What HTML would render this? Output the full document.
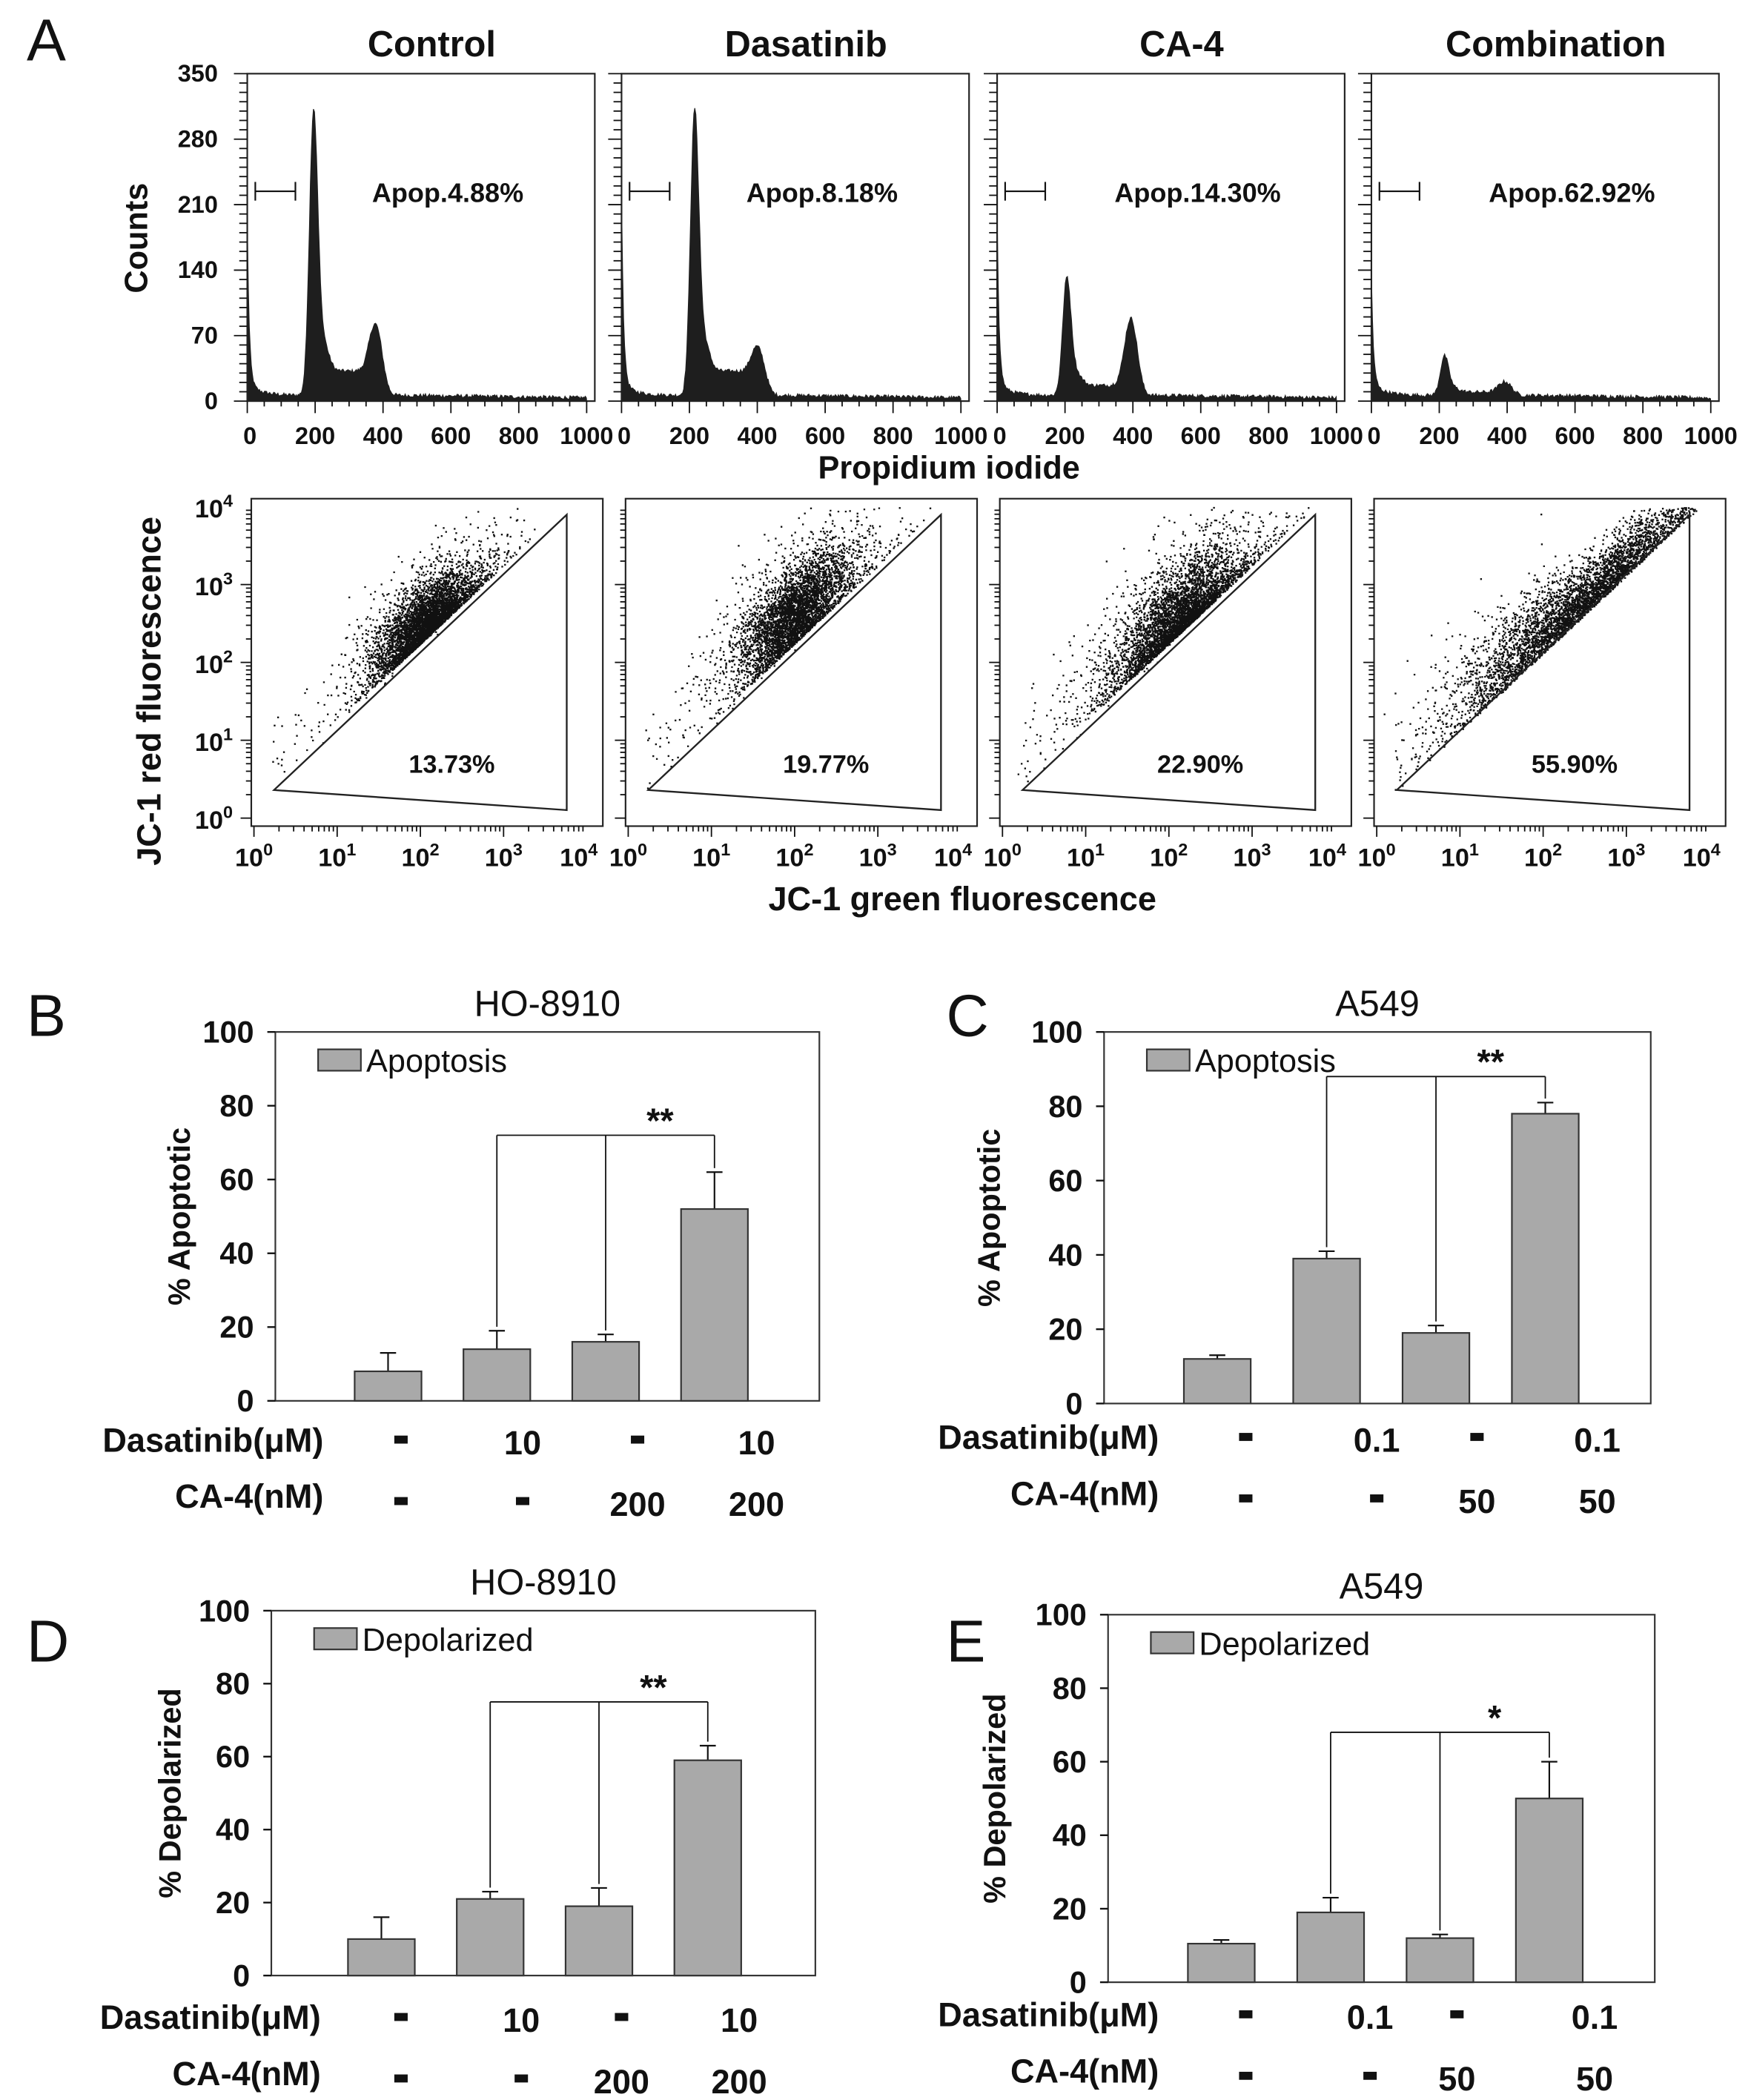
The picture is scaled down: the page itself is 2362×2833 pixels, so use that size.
<!DOCTYPE html>
<html><head><meta charset="utf-8"><style>
html,body{margin:0;padding:0;background:#fff}
svg{display:block}
text{font-family:"Liberation Sans",Arial,sans-serif;font-weight:bold;fill:#111}
</style></head><body>
<svg id="fig" width="2362" height="2833" viewBox="0 0 1310 1571" xmlns="http://www.w3.org/2000/svg">
<rect width="1310" height="1571" fill="#fff"/>
<g id="root"></g>
</svg>
<script>
// ---------- data ----------
const histTitles = ["Control","Dasatinib","CA-4","Combination"];
const apopLabels = ["Apop.4.88%","Apop.8.18%","Apop.14.30%","Apop.62.92%"];
const g1Pos = [195,215,205,215];
const g1Height = [290,290,120,40];
const g2Pos = [380,405,395,395];
const g2Height = [70,45,80,14];
const subG1 = [170,200,180,115];
const histYTicks = [0,70,140,210,280,350];
const histXTicks = [0,200,400,600,800,1000];
const jcLabels = ["13.73%","19.77%","22.90%","55.90%"];
const clusterCx = [2.05,2.0,2.1,2.4];
const clusterCy = [2.5,2.65,2.55,2.5];
const clusterSpread = [0.26,0.3,0.34,0.75];
const clusterN = [6500,6500,6500,6500];
const logTicks = ["0","1","2","3","4"];

const barYTicks = [0,20,40,60,80,100];
const apoptB = [8,14,16,52], apoptBErr = [5,5,2,10];
const apoptC = [12,39,19,78], apoptCErr = [1,2,2,3];
const depolD = [10,21,19,59], depolDErr = [6,2,5,4];
const depolE = [10.5,19,12,50], depolEErr = [1,4,1,10];
const dasHO = ["-","10","-","10"], caHO = ["-","-","200","200"];
const dasA = ["-","0.1","-","0.1"], caA = ["-","-","50","50"];

// ---------- helpers ----------
const NS="http://www.w3.org/2000/svg";
const root=document.getElementById('root');
function el(tag,attrs,parent,txt){const e=document.createElementNS(NS,tag);for(const k in attrs)e.setAttribute(k,attrs[k]);if(txt!==undefined)e.textContent=txt;(parent||root).appendChild(e);return e;}
function line(x1,y1,x2,y2,p,w){return el('line',{x1,y1,x2,y2,stroke:'#111','stroke-width':w||1.3},p);}
function txt(x,y,s,size,p,anchor){return el('text',{x,y,'font-size':size,'text-anchor':anchor||'middle'},p,s);}

[["A",20,45],["B",20,775],["C",708,775],["D",20,1243],["E",708,1243]].forEach(([l,x,y])=>{
  const t=el('text',{x,y,'font-size':44,'text-anchor':'start',style:'font-weight:normal'},root,l);
  
  
});

// ---------- histograms ----------
const hx=[185,465,746,1026], hw=260, hTop=55, hBot=300;
let seed=12345;
function rnd(){seed=(seed*1103515245+12345)%2147483648;return seed/2147483648;}
function gauss(){let u=rnd()||1e-6,v=rnd();return Math.sqrt(-2*Math.log(u))*Math.cos(2*Math.PI*v);}
for(let i=0;i<4;i++){
  const g=el('g',{});
  
  
  const x0=hx[i];
  const sx=v=>x0+v/1024*hw, sy=v=>hBot-v/350*(hBot-hTop);
  let d=`M${sx(0)},${hBot}`;
  const plateau=0.09*g1Height[i];
  for(let v=0;v<=1000;v+=3){
    let s=1/(1+Math.exp(-(v-g1Pos[i]-10)/6))*1/(1+Math.exp((v-g2Pos[i]+10)/8));
    let c=subG1[i]*Math.exp(-v/6)+ 12*Math.exp(-v/40)+4
      + g1Height[i]*Math.exp(-Math.pow((v-g1Pos[i])/17,2))
      + 0.12*g1Height[i]*Math.exp(-Math.pow((v-g1Pos[i]-25)/25,2))
      + g2Height[i]*Math.exp(-Math.pow((v-g2Pos[i])/26,2))
      + plateau*s
      + rnd()*4 - (v>500? (v-500)/200 :0);
    c=Math.max(c,1);
    d+=` L${sx(v).toFixed(1)},${sy(c).toFixed(1)}`;
  }
  d+=` L${sx(1000)},${hBot} Z`;
  const p=el('path',{d,fill:'#1e1e1e',stroke:'#1e1e1e','stroke-width':0.6},g);
  
  el('rect',{x:x0,y:hTop,width:hw,height:hBot-hTop,fill:'none',stroke:'#222','stroke-width':1.2},g);
  for(let k=0;k<=35;k++){const y=sy(k*10);line(x0-(k%7==0?10:6),y,x0,y,g,1);}
  if(i==0) histYTicks.forEach(v=>txt(x0-22,sy(v)+6,v,18,g,'end'));
  for(let k=0;k<=20;k++){const x=sx(k*50);line(x,hBot,x,hBot+(k%4==0?9:4),g,1);}
  histXTicks.forEach(v=>{txt(sx(v)+(v==0?2:0),hBot+32,v,18,g);});
  const gy=sy(210)+2-12;
  line(x0+6,gy,x0+36,gy,g,1.2);line(x0+6,gy-7,x0+6,gy+7,g,1.2);line(x0+36,gy-7,x0+36,gy+7,g,1.2);
  const a=txt(x0+150,gy+8,apopLabels[i],20,g);
  const t=txt(x0+138,42,histTitles[i],27,g);
}
{const t=txt(110,178,"Counts",24,root);t.setAttribute('transform','rotate(-90 110 178)');}
{const t=txt(710,358,"Propidium iodide",24,root);}

// ---------- scatter ----------
const sxp=[188,468,748,1028], sw=263, sTop=373, sBot=618;
for(let i=0;i<4;i++){
  const g=el('g',{});
  
  
  const x0=sxp[i];
  const X=v=>x0+2+v/4*(sw-14), Y=v=>sBot-6-v/4*(sBot-sTop-12);
  let dots='';
  seed=777+i*101;
  for(let n=0;n<clusterN[i];n++){
    let gx,ry;
    if(i==3){gx=clusterCx[i]+gauss()*clusterSpread[i]; ry=gx+0.12+Math.abs(gauss())*0.3*(1+Math.max(0,2.5-gx)*0.5);}
    else {
      const sp=clusterSpread[i]*(n%3==0?1.7:1);
      gx=clusterCx[i]+gauss()*sp; ry=clusterCy[i]+(gx-clusterCx[i])*0.85+gauss()*sp*0.9;
      if(ry<gx+0.25) ry=gx+0.25+Math.abs(gauss())*0.1;
    }
    if(n%60==0){gx=0.2+rnd()*2; ry=gx+0.15+rnd()*0.9;}
    if(gx<0||gx>4||ry<0||ry>4) continue;
    dots+=`M${X(gx).toFixed(1)},${Y(ry).toFixed(1)}h1.3v1.3h-1.3z`;
  }
  const pd=el('path',{d:dots,fill:'#111'},g);
  el('rect',{x:x0,y:sTop,width:sw,height:sBot-sTop,fill:'none',stroke:'#222','stroke-width':1.2},g);
  el('path',{d:`M${x0+17},${591} L${x0+236},${385} L${x0+236},${606} Z`,fill:'none',stroke:'#222','stroke-width':1.3},g);
  const lt=txt(x0+150,578,jcLabels[i],19,g);
  for(let d=0;d<4;d++)for(let m=1;m<10;m++){const v=d+Math.log10(m);line(X(v),sBot,X(v),sBot+(m==1?8:4),g,1);line(x0-(m==1?8:4),Y(v),x0,Y(v),g,1);}
  logTicks.forEach((s,k)=>{
    const t=el('text',{x:X(k)-(k==4?6:0),y:sBot+30,'font-size':19,'text-anchor':'middle'},g);
    t.innerHTML=`10<tspan dy="-8" font-size="13">${s}</tspan>`;
  });
  if(i==0) logTicks.forEach((s,k)=>{
    const t=el('text',{x:x0-28,y:Y(k)+8,'font-size':19,'text-anchor':'middle'},g);
    t.innerHTML=`10<tspan dy="-8" font-size="13">${s}</tspan>`;
  });
}
{const t=txt(120,517,"JC-1 red fluorescence",25,root);t.setAttribute('transform','rotate(-90 120 517)');}
{const t=txt(720,681,"JC-1 green fluorescence",25,root);}

// ---------- bar charts ----------
function barChart(o){
  const g=el('g',{});
  
  
  const {x0,x1,y0,y1}=o;
  const Y=v=>y1-v/100*(y1-y0);
  const step=(x1-x0)/5, bw=50;
  const cx=k=>x0+step*(k+1)-step*0.05+o.shift;
  el('rect',{x:x0,y:y0,width:x1-x0,height:y1-y0,fill:'none',stroke:'#333','stroke-width':1.2},g);
  barYTicks.forEach(v=>{line(x0-6,Y(v),x0,Y(v),g,1.3);txt(x0-16,Y(v)+8,v,23,g,'end');});
  o.vals.forEach((v,k)=>{
    const c=cx(k), e=o.err[k];
    line(c,Y(v),c,Y(v+e),g,1.2);line(c-6,Y(v+e),c+6,Y(v+e),g,1.2);
    const r=el('rect',{x:c-bw/2,y:Y(v),width:bw,height:Y(0)-Y(v),fill:'#a9a9a9',stroke:'#333','stroke-width':1.2},g);
    
    
  });
  el('rect',{x:x0+32,y:y0+13,width:32,height:16,fill:'#a9a9a9',stroke:'#333','stroke-width':1.2},g);
  txt(x0+68,y0+30,o.legend,24,g,'start').setAttribute('style','font-weight:normal;fill:#111;font-family:"Liberation Sans",sans-serif');
  const by=Y(o.brk);
  line(cx(1),by,cx(3),by,g,1);
  [1,2,3].forEach(k=>{line(cx(k),by,cx(k),Y(o.vals[k]+o.err[k])-3,g,1);});
  const s=txt((cx(2)+cx(3))/2,by-2,o.star,26,g);
  const t=txt((x0+x1)/2,y0-12,o.title,27,g);t.setAttribute('style','font-weight:normal');
  const yt=txt(o.ylx,(y0+y1)/2,o.ylab,23,g);yt.setAttribute('transform',`rotate(-90 ${o.ylx} ${(y0+y1)/2})`);
  
  const l1=txt(o.labX,o.r1,"Dasatinib(μM)",25,g,'end');
  const l2=txt(o.labX,o.r2,"CA-4(nM)",25,g,'end');
  o.das.forEach((s,k)=>{ if(s=="-") el('rect',{x:o.vx[k]-5,y:o.r1-12,width:10,height:6,fill:'#111'},g); else txt(o.vx[k],o.r1+2,s,25,g);});
  o.ca.forEach((s,k)=>{ if(s=="-") el('rect',{x:o.vx[k]-5,y:o.r2-8,width:10,height:6,fill:'#111'},g); else txt(o.vx[k],o.r2+6,s,25,g);});
}
barChart({name:'chart-b-ho8910-apoptosis',x0:206,x1:613,y0:772,y1:1048,shift:7,vals:apoptB,err:apoptBErr,legend:'Apoptosis',brk:72,star:'**',title:'HO-8910',ylab:'% Apoptotic',ylx:142,labX:242,r1:1086,r2:1128,das:dasHO,ca:caHO,vx:[300,391,477,566]});
barChart({name:'chart-c-a549-apoptosis',x0:826,x1:1235,y0:772,y1:1050,shift:7,vals:apoptC,err:apoptCErr,legend:'Apoptosis',brk:88,star:'**',title:'A549',ylab:'% Apoptotic',ylx:748,labX:867,r1:1084,r2:1126,das:dasA,ca:caA,vx:[932,1030,1105,1195]});
barChart({name:'chart-d-ho8910-depolarized',x0:203,x1:610,y0:1205,y1:1478,shift:5,vals:depolD,err:depolDErr,legend:'Depolarized',brk:75,star:'**',title:'HO-8910',ylab:'% Depolarized',ylx:135,labX:240,r1:1518,r2:1560,das:dasHO,ca:caHO,vx:[300,390,465,553]});
barChart({name:'chart-e-a549-depolarized',x0:829,x1:1238,y0:1208,y1:1483,shift:7,vals:depolE,err:depolEErr,legend:'Depolarized',brk:68,star:'*',title:'A549',ylab:'% Depolarized',ylx:752,labX:867,r1:1516,r2:1558,das:dasA,ca:caA,vx:[932,1025,1090,1193]});
</script>
</body></html>
